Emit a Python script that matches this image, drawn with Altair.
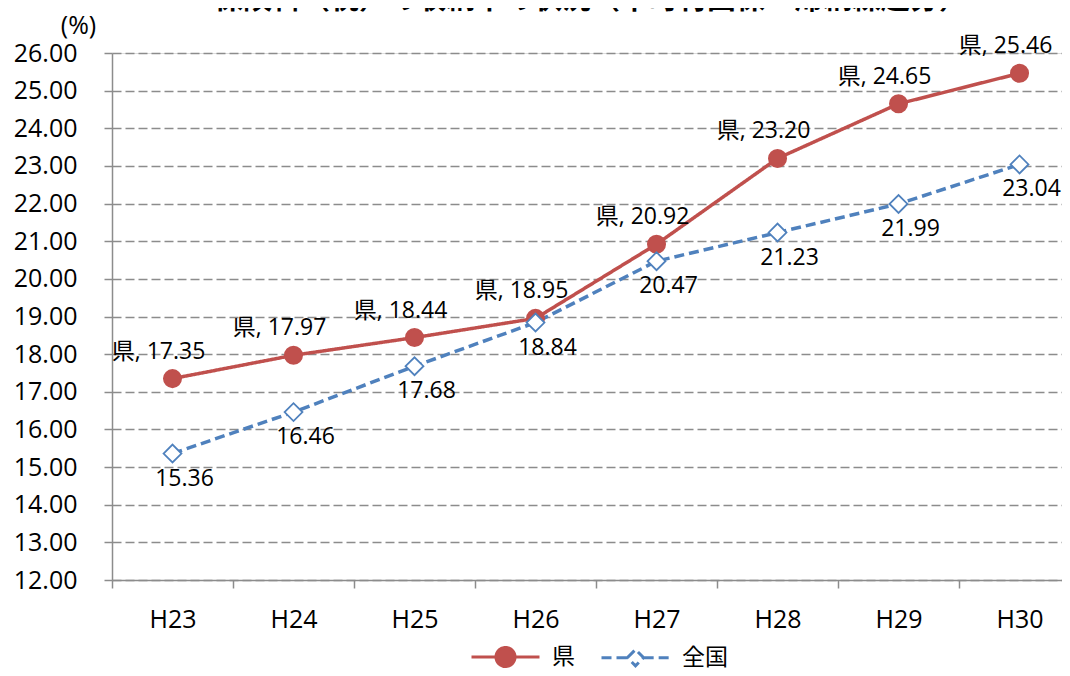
import altair as alt
import pandas as pd

categories = ["H23", "H24", "H25", "H26", "H27", "H28", "H29", "H30"]
ken = [17.35, 17.97, 18.44, 18.95, 20.92, 23.20, 24.65, 25.46]
zenkoku = [15.36, 16.46, 17.68, 18.84, 20.47, 21.23, 21.99, 23.04]
series_names = ["県", "全国"]
y_ticks = [12, 13, 14, 15, 16, 17, 18, 19, 20, 21, 22, 23, 24, 25, 26]
title_text = "保険料（税）の収納率の状況（市町村国保　滞納繰越分）"

rows = []
for i, c in enumerate(categories):
    rows.append({"idx": i, "cat": c, "series": series_names[0], "value": ken[i]})
    rows.append({"idx": i, "cat": c, "series": series_names[1], "value": zenkoku[i]})
df = pd.DataFrame(rows)

RED = "#C0504D"
BLUE = "#4F81BD"
GRID = "#8C8C8C"
FONT = "Open Sans, Noto Sans CJK JP, sans-serif"
CJK = "Noto Sans CJK JP, sans-serif"

label_expr = "[" + ",".join("'%s'" % c for c in categories) + "][datum.value]"

x_enc = alt.X(
    "idx:Q",
    scale=alt.Scale(domain=[-0.5, 7.351], nice=False, zero=False),
    axis=alt.Axis(
        values=list(range(len(categories))), labelExpr=label_expr,
        tickOffset=-60.5, labelOffset=60.5, grid=False, title=None,
        labelFlush=False, labelOverlap=False, labelBound=False,
        tickSize=8, tickColor=GRID, tickWidth=1.5,
        domainColor=GRID, domainWidth=1.5,
        labelFontSize=25, labelFont=FONT, labelColor="#000", labelPadding=19,
    ),
)
y_enc = alt.Y(
    "value:Q",
    scale=alt.Scale(domain=[12, 26], nice=False, zero=False),
    axis=alt.Axis(
        values=y_ticks, format=".2f", grid=True, gridColor=GRID, gridDash=[9, 4],
        gridWidth=1.5, tickSize=8, tickColor=GRID, tickWidth=1.5,
        domainColor=GRID, domainWidth=1.5,
        labelFontSize=25, labelFont=FONT, labelColor="#000", labelPadding=27,
        title="(%)", titleAngle=0, titleX=-34, titleY=-28, titleAlign="center",
        titleBaseline="middle", titleFontSize=25, titleFont=FONT,
        titleFontWeight="normal", titleColor="#000",
    ),
)

color_scale = alt.Scale(domain=series_names, range=[RED, BLUE])
dash_scale = alt.Scale(domain=series_names, range=[[1, 0], [10, 5]])

base = alt.Chart(df)

lines = base.mark_line(strokeWidth=3.5).encode(
    x=x_enc, y=y_enc,
    color=alt.Color("series:N", scale=color_scale),
    strokeDash=alt.StrokeDash("series:N", scale=dash_scale),
    detail="series:N",
)

pts_ken = base.transform_filter(alt.datum.series == series_names[0]).mark_point(
    shape="circle", filled=True, size=290, opacity=1, fill=RED, stroke=RED
).encode(x=x_enc, y=y_enc)

pts_zen = base.transform_filter(alt.datum.series == series_names[1]).mark_point(
    shape="diamond", filled=False, size=320, opacity=1, fill="white", stroke=BLUE, strokeWidth=1.8
).encode(x=x_enc, y=y_enc)

lab_ken = base.transform_filter(alt.datum.series == series_names[0]).transform_calculate(
    label="datum.series + ', ' + format(datum.value, '.2f')"
).mark_text(font=FONT, fontSize=23, color="#000", dx=-14, dy=-27, baseline="middle", align="center").encode(
    x=x_enc, y=y_enc, text="label:N"
)

lab_zen = base.transform_filter(alt.datum.series == series_names[1]).transform_calculate(
    label="format(datum.value, '.2f')"
).mark_text(font=FONT, fontSize=23, color="#000", dx=12, dy=25, baseline="middle", align="center").encode(
    x=x_enc, y=y_enc, text="label:N"
)

title_df = pd.DataFrame({"t": [title_text]})
title_mark = alt.Chart(title_df).mark_text(
    font=CJK, fontSize=29, fontWeight="bold", color="#000", align="center", baseline="alphabetic"
).encode(text="t:N", x=alt.value(479), y=alt.value(-44))

circ_path = "M-1,0L-0.28,0M0.28,0L1,0M-0.28,0A0.28,0.28,0,1,1,0.28,0A0.28,0.28,0,1,1,-0.28,0Z"
diam_path = "M-1,0L-0.24,0M0.24,0L1,0M-0.24,0L0,-0.24L0.24,0L0,0.24Z"

legend_layer = base.transform_filter("false").mark_point(filled=False, opacity=1).encode(
    x=x_enc, y=y_enc,
    color=alt.Color("series:N", scale=color_scale,
                    legend=alt.Legend(
                        title=None, orient="none", legendX=358, legendY=568, direction="horizontal",
                        symbolSize=4624, symbolStrokeWidth=3, labelFontSize=23, labelFont=CJK,
                        labelColor="#000", columnPadding=20, labelOffset=11, symbolOpacity=1,
                    )),
    shape=alt.Shape("series:N", scale=alt.Scale(domain=series_names, range=[circ_path, diam_path])),
    fill=alt.Fill("series:N", scale=alt.Scale(domain=series_names, range=[RED, "white"])),
    strokeDash=alt.StrokeDash("series:N", scale=dash_scale),
)

chart = alt.layer(lines, pts_ken, pts_zen, lab_ken, lab_zen, title_mark, legend_layer).properties(
    width=950, height=527,
    autosize=alt.AutoSizeParams(type="none"),
    padding={"left": 104, "top": 45, "right": 0, "bottom": 88},
).configure_view(stroke=None).configure(background="white")

chart.save("out.html", embed_options={"renderer": "svg", "actions": False})
